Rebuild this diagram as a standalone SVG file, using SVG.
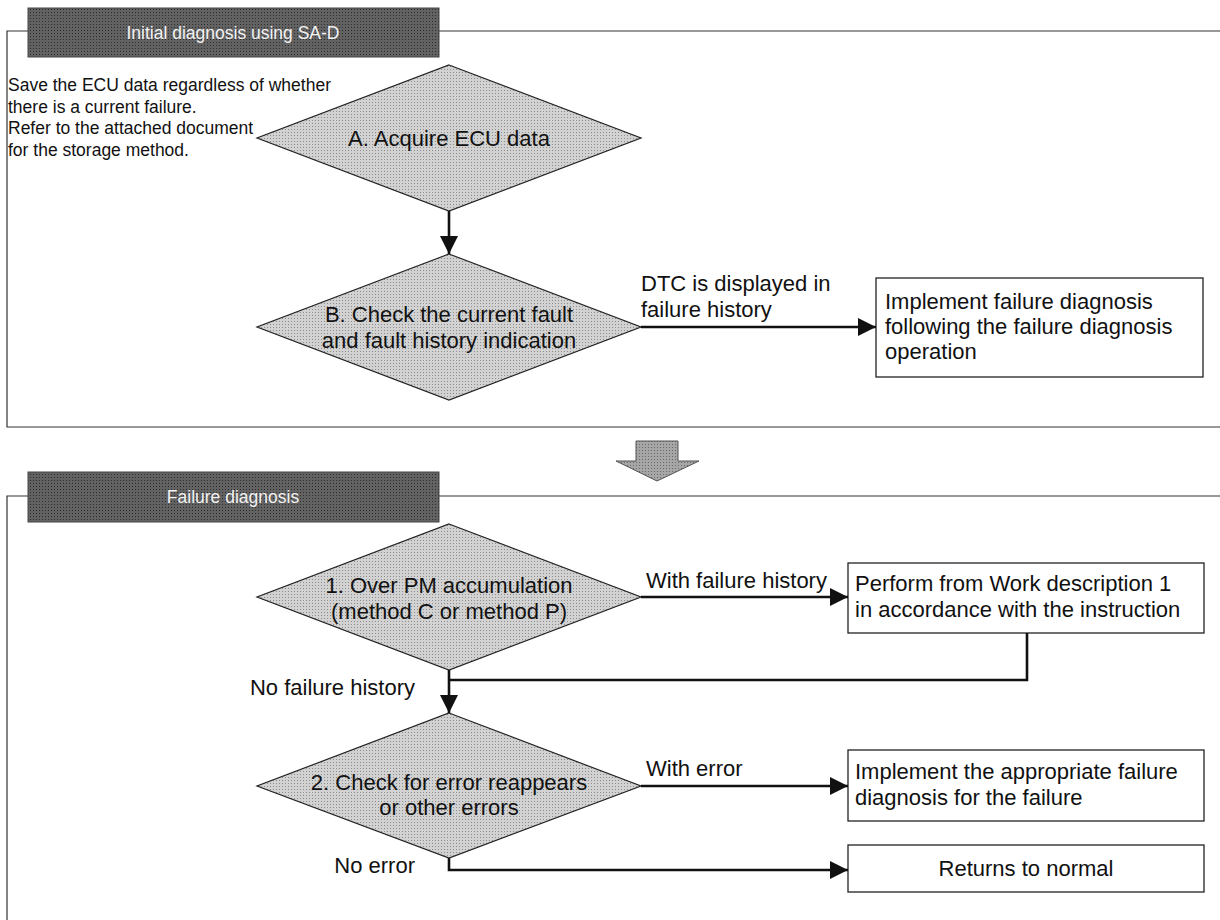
<svg xmlns="http://www.w3.org/2000/svg" width="1220" height="920" viewBox="0 0 1220 920">
  <defs>
    <!-- fine screen-tone fills -->
    <pattern id="tone-light" width="3" height="3" patternUnits="userSpaceOnUse">
      <rect width="3" height="3" fill="#d2d2d2"/>
      <rect width="1" height="1" fill="#8c8c8c"/>
    </pattern>
    <pattern id="tone-dark" width="3" height="3" patternUnits="userSpaceOnUse">
      <rect width="3" height="3" fill="#626262"/>
      <rect width="1" height="1" fill="#2e2e2e"/>
    </pattern>
    <pattern id="tone-mid" width="3" height="3" patternUnits="userSpaceOnUse">
      <rect width="3" height="3" fill="#a6a6a6"/>
      <rect width="1" height="1" fill="#6a6a6a"/>
    </pattern>
    <marker id="arrow" viewBox="0 0 18 18" refX="18" refY="9" markerWidth="18" markerHeight="18" markerUnits="userSpaceOnUse" orient="auto">
      <path d="M0,0 L18,9 L0,18 Z" fill="#111"/>
    </marker>
    <style>
      text { font-family: "Liberation Sans", Arial, sans-serif; fill: #111; }
      .frame { fill: none; stroke: #333; stroke-width: 1.2; }
      .bar { fill: url(#tone-dark); stroke: #444; stroke-width: 1; }
      .bar-text { font-size: 17.5px; fill: #f2f2f2; text-anchor: middle; }
      .decision { fill: url(#tone-light); stroke: #222; stroke-width: 1.2; }
      .box { fill: #fff; stroke: #222; stroke-width: 1.3; }
      .label { font-size: 22px; }
      .mid { text-anchor: middle; }
      .end { text-anchor: end; }
      .note { font-size: 17.5px; }
      .conn { fill: none; stroke: #111; stroke-width: 2.6; }
      .bigarrow { fill: url(#tone-mid); stroke: #555; stroke-width: 1; }
    </style>
  </defs>

  <!-- Section 1: initial diagnosis -->
  <g id="section-initial">
    <path class="frame" d="M1220,31 H7 V427 H1220"/>
    <rect class="bar" x="28" y="8" width="411" height="49"/>
    <text class="bar-text" x="233" y="39">Initial diagnosis using SA-D</text>
  </g>

  <g id="note-ecu">
    <text class="note" x="8" y="91">Save the ECU data regardless of whether</text>
    <text class="note" x="8" y="112.5">there is a current failure.</text>
    <text class="note" x="8" y="134">Refer to the attached document</text>
    <text class="note" x="8" y="155.5">for the storage method.</text>
  </g>

  <g id="node-a">
    <polygon class="decision" points="449,65 641,138 449,211 257,138"/>
    <text class="label mid" x="449" y="146">A. Acquire ECU data</text>
  </g>

  <g id="node-b">
    <polygon class="decision" points="449,254 641,327 449,400 257,327"/>
    <text class="label mid" x="449" y="322">B. Check the current fault</text>
    <text class="label mid" x="449" y="348">and fault history indication</text>
  </g>

  <g id="node-dtc">
    <rect class="box" x="876" y="278" width="327" height="99"/>
    <text class="label" x="885" y="309">Implement failure diagnosis</text>
    <text class="label" x="885" y="334">following the failure diagnosis</text>
    <text class="label" x="885" y="359">operation</text>
  </g>

  <!-- transition between sections -->
  <g id="transition-arrow">
    <polygon class="bigarrow" points="636,441 678,441 678,461 699,461 657,481 616,461 636,461"/>
  </g>

  <!-- Section 2: failure diagnosis -->
  <g id="section-failure">
    <path class="frame" d="M1220,496 H7 V920"/>
    <rect class="bar" x="28" y="472" width="411" height="50"/>
    <text class="bar-text" x="233" y="503">Failure diagnosis</text>
  </g>

  <g id="node-1">
    <polygon class="decision" points="449,524 641,597 449,670 257,597"/>
    <text class="label mid" x="449" y="593">1. Over PM accumulation</text>
    <text class="label mid" x="449" y="619">(method C or method P)</text>
  </g>

  <g id="node-work">
    <rect class="box" x="848" y="563" width="356" height="70"/>
    <text class="label" x="855" y="591">Perform from Work description 1</text>
    <text class="label" x="855" y="617">in accordance with the instruction</text>
  </g>

  <g id="node-2">
    <polygon class="decision" points="449,713 641,786 449,858 257,786"/>
    <text class="label mid" x="449" y="790">2. Check for error reappears</text>
    <text class="label mid" x="449" y="815">or other errors</text>
  </g>

  <g id="node-error">
    <rect class="box" x="848" y="750" width="356" height="71"/>
    <text class="label" x="855" y="779">Implement the appropriate failure</text>
    <text class="label" x="855" y="805">diagnosis for the failure</text>
  </g>

  <g id="node-normal">
    <rect class="box" x="848" y="845" width="356" height="47"/>
    <text class="label mid" x="1026" y="876">Returns to normal</text>
  </g>

  <!-- connectors -->
  <g id="connectors">
    <path class="conn" d="M449,211 V254" marker-end="url(#arrow)"/>
    <path class="conn" d="M641,327 H876" marker-end="url(#arrow)"/>
    <path class="conn" d="M641,597 H848" marker-end="url(#arrow)"/>
    <path class="conn" d="M1027,633 V680 H449"/>
    <path class="conn" d="M449,670 V713" marker-end="url(#arrow)"/>
    <path class="conn" d="M641,786 H848" marker-end="url(#arrow)"/>
    <path class="conn" d="M449,858 V870 H848" marker-end="url(#arrow)"/>

    <text class="label" x="641" y="291">DTC is displayed in</text>
    <text class="label" x="641" y="317">failure history</text>
    <text class="label" x="646" y="588">With failure history</text>
    <text class="label end" x="415" y="695">No failure history</text>
    <text class="label" x="646" y="776">With error</text>
    <text class="label end" x="415" y="873">No error</text>
  </g>
</svg>
